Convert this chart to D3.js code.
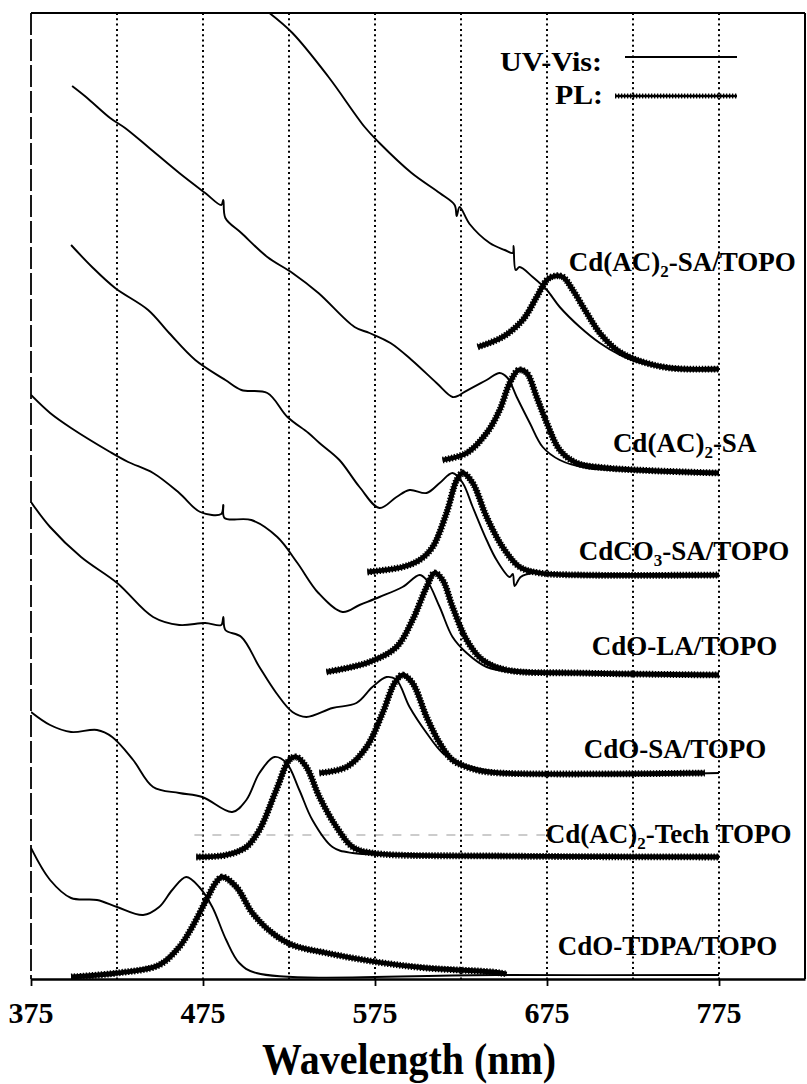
<!DOCTYPE html>
<html>
<head>
<meta charset="utf-8">
<script src="https://cdn.jsdelivr.net/npm/d3@7"></script>
<style>
  body { margin: 0; background: #fff; }
  svg { display: block; }
  text { font-family: "Liberation Serif", "Times New Roman", serif; font-weight: bold; fill: #000; }
</style>
</head>
<body>
<svg id="chart" width="807" height="1084"></svg>
<script>

// spectra, [wavelength nm, signal a.u.] (stacked, offset)
var uv1 = [[513.6,966],[527,946],[548,902],[569,852],[577.6,836],[596.3,806],[612.6,786],[621.3,774],
    [622.5,763],[624.2,772],[630,755],[641.7,736],[650.4,729],[655.1,726],[655.6,733],[656.8,709],
    [659.1,712],[666.7,702],[674.9,689],[682.4,672],[694.1,652],[705.7,636],[717.4,624],[727.3,617],
    [746.5,612],[775,609]];
var pl1 = [[634.7,632],[649.2,642],[660.9,659],[669,682],[674.9,699],[679.5,703],[684.2,702],[690,689],
    [698.1,666],[705.7,646],[715.6,629],[727.3,619],[746.5,611],[775,610]];

var uv2 = [[398.9,893],[407,882],[421,861],[429.7,851],[443.1,832],[461.2,806],[476.3,786],[485.6,774],
    [486.8,779],[488,761],[497.3,746],[512.4,722],[527,706],[542.1,686],[563.1,652],[571.8,646],
    [584,636],[596.3,619],[610.8,596],[620.1,582],[624.2,584],[626,586],[639.9,599],[647.5,606],
    [652.1,601],[657.4,582],[665,556],[672.5,532],[682.4,519],[698.1,511],[734.8,508],[775,506]];
var pl2 = [[614.3,519],[628.3,526],[639.9,546],[647.5,569],[653.3,596],[658.5,609],[663.2,606],[669,582],
    [674.9,556],[682.4,529],[692.3,516],[709.8,511],[775,506]];

var uv3 = [[398.3,734],[410.5,712],[423.9,691],[443.1,669],[455.3,646],[470.5,619],[488,599],[497.3,589],
    [512.4,586],[524.1,562],[536.3,546],[542.7,536],[554.3,519],[566,492],[577.6,471],[587.5,482],
    [595.1,489],[605,486],[612.6,496],[620.1,506],[626,496],[631.8,472],[639.9,439],[645.7,419],
    [653.3,402],[655.1,405],[656.2,393],[659.7,402],[666.7,406],[694.1,404],[775,404]];
var pl3 = [[570.6,407],[591,412],[600.9,419],[608.5,432],[616.6,466],[622.5,499],[626,506],[631.8,496],
    [639.9,462],[649.2,432],[659.1,412],[670.8,406],[694.1,404],[775,404]];

var uv4 = [[375,584],[386.1,566],[398.3,551],[421,527],[431.5,517],[446,506],[461.2,486],[473.4,467],
    [485.6,465],[486.8,474],[487.5,461],[503.1,459],[518.2,442],[529.9,416],[542.1,386],[556.1,367],
    [566,374],[577.6,382],[591,392],[600.9,404],[605,399],[612.6,372],[620.1,342],[628.3,326],
    [639.9,312],[659.1,306],[694.1,306],[775,304]];
var pl4 = [[546.8,307],[571.8,317],[587.5,332],[596.8,359],[605,392],[609.6,406],[614.3,399],[620.1,372],
    [628.3,339],[637.6,319],[651.6,309],[694.1,306],[775,304]];

var uv5 = [[375,477],[386.1,452],[404.1,422],[425.1,396],[446,362],[461.2,354],[476.3,356],[485.6,354],
    [486.8,362],[488,349],[497.3,342],[507.8,312],[517.6,286],[527,267],[535.1,262],[550.3,271],
    [564.2,276],[573.5,292],[581.7,302],[587.5,299],[595.1,272],[605,246],[614.3,226],[624.2,216],
    [647.5,207],[775,206]];
var pl5 = [[542.7,206],[558.4,212],[570.1,232],[579.4,266],[586.4,296],[591,304],[596.8,296],[605,262],
    [612.6,236],[620.1,219],[634.1,209],[647.5,206],[766.8,206]];

var uv6 = [[375,267],[386.1,254],[398.3,247],[413.4,249],[422.2,242],[434.4,219],[446,192],[461.2,186],
    [474.6,182],[492,167],[500.2,179],[507.8,206],[516.5,222],[523.5,216],[531,189],[538.6,159],
    [550.3,132],[562,126],[647.5,124],[775,122]];
var pl6 = [[471.1,122],[488.5,124],[500.2,132],[507.8,149],[517.6,189],[525.2,219],[529.3,222],[535.1,212],
    [542.7,182],[552.6,152],[562,132],[573.5,126],[647.5,123],[775,122]];

var uv7 = [[375,131],[386.1,99],[398.3,81],[413.4,79],[425.1,72],[440.2,64],[449.5,72],[457.1,89],
    [465.2,102],[472.8,92],[480.4,72],[488.5,39],[496.1,16],[506,6],[647.5,4],[775,4]];
var pl7 = [[398.3,2],[425.1,6],[449.5,14],[461.2,32],[468.7,52],[476.9,79],[482.7,97],[486.2,102],
    [494.4,92],[503.7,66],[515.3,46],[527,34],[546.8,26],[575.9,17],[605,11],[643.4,7],[651.6,5]];

var uvSeries = [uv1, uv2, uv3, uv4, uv5, uv6, uv7];
var plSeries = [pl1, pl2, pl3, pl4, pl5, pl6, pl7];

// sample names: [main, subscript, rest]
var sampleNames = [["Cd(AC)", "2", "-SA/TOPO"], ["Cd(AC)", "2", "-SA"], ["CdCO", "3", "-SA/TOPO"],
    ["CdO-LA/TOPO", "", ""], ["CdO-SA/TOPO", "", ""], ["Cd(AC)", "2", "-Tech TOPO"], ["CdO-TDPA/TOPO", "", ""]];

var gridWaves = [425, 475, 525, 575, 625, 675, 725, 775];
var tickWaves = [375, 475, 575, 675, 775];

// label anchors (left edge wavelength, baseline signal)
var labelWave = [687.7, 713.3, 693.5, 701, 696.4, 674.3, 681.3];
var labelLevel = [708, 527, 419, 324, 221, 136, 24];

var svg = d3.select("#chart");

var x = d3.scaleLinear().domain([375, 825]).range([31, 805]);
var y = d3.scaleLinear().domain([0, 966]).range([979, 13]);

svg.append("clipPath").attr("id", "plot")
    .append("rect")
    .attr("x", x(375)).attr("y", y(966))
    .attr("width", x(825) - x(375)).attr("height", y(0) - y(966));

// dotted gridlines
svg.selectAll("line.grid")
    .data(gridWaves)
    .enter()
    .append("line")
    .attr("class", "grid")
    .attr("x1", function(d) { return x(d); })
    .attr("x2", function(d) { return x(d); })
    .attr("y1", y(966))
    .attr("y2", y(0))
    .attr("stroke", "#000")
    .attr("stroke-width", 2)
    .attr("stroke-dasharray", "2,3.3");

// faint scan line left of the Tech TOPO label
svg.append("line")
    .attr("x1", x(470)).attr("x2", x(674))
    .attr("y1", y(144)).attr("y2", y(144))
    .attr("stroke", "#999")
    .attr("stroke-width", 1)
    .attr("stroke-dasharray", "9,9");

// frame
svg.append("line")
    .attr("x1", x(375)).attr("x2", x(825))
    .attr("y1", y(966)).attr("y2", y(966))
    .attr("stroke", "#000").attr("stroke-width", 2.2);
svg.append("line")
    .attr("x1", x(825)).attr("x2", x(825))
    .attr("y1", y(966)).attr("y2", y(0))
    .attr("stroke", "#000").attr("stroke-width", 2);
svg.append("line")
    .attr("x1", x(375)).attr("x2", x(375))
    .attr("y1", y(966)).attr("y2", y(0))
    .attr("stroke", "#000").attr("stroke-width", 1.8)
    .attr("stroke-dasharray", "22,4");

var xAxis = d3.axisBottom(x)
    .tickValues(tickWaves)
    .tickSize(7)
    .tickSizeOuter(0)
    .tickFormat("");

var axisG = svg.append("g")
    .attr("transform", "translate(0," + y(0) + ")")
    .call(xAxis);
axisG.select(".domain").attr("stroke-width", 2.4);
axisG.selectAll(".tick line").attr("stroke-width", 1.8);

svg.selectAll("text.tick-label")
    .data(tickWaves)
    .enter()
    .append("text")
    .attr("class", "tick-label")
    .attr("x", function(d) { return x(d); })
    .attr("y", 1023)
    .attr("text-anchor", "middle")
    .style("font-size", "30px")
    .text(function(d) { return d; });

svg.append("text")
    .attr("x", 409)
    .attr("y", 1074)
    .attr("text-anchor", "middle")
    .attr("textLength", 294)
    .attr("lengthAdjust", "spacingAndGlyphs")
    .style("font-size", "44px")
    .text("Wavelength (nm)");

var line = d3.line()
    .x(function(d) { return x(d[0]); })
    .y(function(d) { return y(d[1]); })
    .curve(d3.curveCatmullRom.alpha(0.5));

var curves = svg.append("g").attr("clip-path", "url(#plot)");

// PL: thick serrated band
plSeries.forEach(function(s) {
    curves.append("path")
        .attr("d", line(s))
        .attr("fill", "none")
        .attr("stroke", "#000")
        .attr("stroke-width", 6.8)
        .attr("stroke-dasharray", "1.4,1.6");
    curves.append("path")
        .attr("d", line(s))
        .attr("fill", "none")
        .attr("stroke", "#000")
        .attr("stroke-width", 4.8);
});

// UV-Vis: thin lines
uvSeries.forEach(function(s) {
    curves.append("path")
        .attr("d", line(s))
        .attr("fill", "none")
        .attr("stroke", "#000")
        .attr("stroke-width", 1.9)
        .attr("stroke-linejoin", "round");
});

// sample labels
sampleNames.forEach(function(n, i) {
    var t = svg.append("text")
        .attr("x", x(labelWave[i]))
        .attr("y", y(labelLevel[i]))
        .style("font-size", "27px");
    t.append("tspan").text(n[0]);
    if (n[1] != "") {
        t.append("tspan").attr("dy", 6).style("font-size", "17px").text(n[1]);
        t.append("tspan").attr("dy", -6).text(n[2]);
    }
});

// legend
svg.append("text")
    .attr("x", 500).attr("y", 71)
    .attr("textLength", 102)
    .attr("lengthAdjust", "spacingAndGlyphs")
    .style("font-size", "28px")
    .text("UV-Vis:");
svg.append("line")
    .attr("x1", 625).attr("x2", 737)
    .attr("y1", 57).attr("y2", 57)
    .attr("stroke", "#000").attr("stroke-width", 1.8);
svg.append("text")
    .attr("x", 555).attr("y", 104)
    .attr("textLength", 48)
    .attr("lengthAdjust", "spacingAndGlyphs")
    .style("font-size", "28px")
    .text("PL:");
svg.append("line")
    .attr("x1", 615).attr("x2", 737)
    .attr("y1", 96).attr("y2", 96)
    .attr("stroke", "#000").attr("stroke-width", 5)
    .attr("stroke-dasharray", "1.3,1.7");
svg.append("line")
    .attr("x1", 615).attr("x2", 737)
    .attr("y1", 96).attr("y2", 96)
    .attr("stroke", "#000").attr("stroke-width", 2.6);

</script>
</body>
</html>
